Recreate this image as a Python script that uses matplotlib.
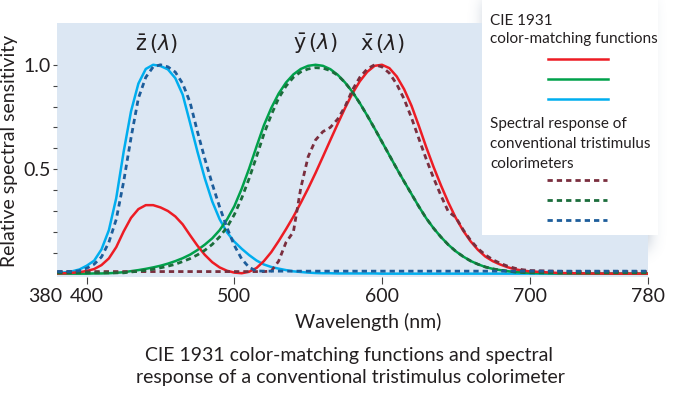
import numpy as np
import matplotlib
matplotlib.use("Agg")
import matplotlib.pyplot as plt
from matplotlib.patches import Rectangle

plt.rcParams['font.family'] = ['Lato', 'DejaVu Sans']
plt.rcParams['mathtext.fontset'] = 'dejavusans'

# ----------------------------
# Data (normalised to peak = 1)
# ----------------------------
wavelength = list(range(380, 705, 5)) + [720, 740, 760, 780]

# CIE 1931 colour-matching functions (solid)
x_bar = [.001, .002, .004, .007, .013, .022, .041, .073, .127, .202, .267, .309, .328,
         .328, .317, .300, .274, .236, .184, .134, .090, .055, .030, .014, .005, .002,
         .009, .027, .060, .103, .156, .213, .273, .339, .408, .482, .560, .639, .717,
         .793, .863, .921, .966, .995, 1.0, .984, .944, .883, .804, .707, .605, .510,
         .422, .340, .267, .206, .155, .114, .082, .060, .044, .031, .021, .015, .011,
         .003, .001, 0, 0]
y_bar = [0, 0, 0, 0, 0, .001, .001, .002, .004, .007, .012, .017, .023, .030, .038,
         .048, .060, .074, .091, .113, .139, .169, .208, .259, .323, .407, .503, .608,
         .710, .793, .862, .915, .954, .980, .995, 1.0, .995, .979, .952, .915, .870,
         .816, .757, .695, .631, .567, .503, .441, .381, .321, .265, .217, .175, .138,
         .107, .082, .061, .045, .032, .023, .017, .012, .008, .006, .004, .001, 0, 0, 0]
z_bar = [.004, .006, .011, .020, .038, .062, .116, .208, .362, .583, .777, .910, .980,
         1.0, .994, .978, .936, .857, .722, .584, .456, .346, .261, .198, .153, .119,
         .089, .063, .044, .032, .024, .017, .011, .008, .005, .003, .002, .002, .001,
         .001, .001, .001, .001, .001, 0, 0, 0, 0, 0, 0, 0, 0, 0, 0, 0, 0, 0, 0, 0, 0,
         0, 0, 0, 0, 0, 0, 0, 0, 0]

# Spectral response of a conventional tristimulus colorimeter (dashed)
x_meter = [.01] * 29 + [.012, .06, .15, .20, .41, .56, .64, .68, .70, .74, .80, .88,
           .94, .98, 1.0, .99, .96, .907, .836, .746, .646, .548, .457, .373, .296,
           .27, .21, .16, .12, .09, .067, .05, .036, .026, .019, .015, .011, .01, .01, .01]
y_meter = [.004] * 10 + [.008, .012, .016, .022, .028, .036, .045, .058, .072, .090,
           .112, .140, .176, .222, .283, .362, .455, .560, .668, .760, .840, .898,
           .940, .966, .980, .986, .984, .972, .950, .915, .870, .816, .757, .695,
           .631, .567, .503, .441, .381, .321, .265, .217, .175, .138, .107, .082,
           .061, .045, .032, .023, .017, .012, .008, .006, .004, .004, .004, .004, .004]
z_meter = [.01, .01, .01, .014, .026, .045, .08, .15, .26, .44, .65, .84, .94, .99,
           1.0, .99, .965, .91, .82, .68, .55, .43, .32, .22, .135, .07, .03, .013] + [.012] * 41

x_ticks = [400, 500, 600, 700, 780]
y_ticks = [0.5, 1.0]
y_minor = [0.1, 0.2, 0.3, 0.4, 0.6, 0.7, 0.8, 0.9]

RED, GREEN, CYAN = '#ed1c24', '#00a14b', '#00aeef'
MAROON, DKGREEN, DKBLUE = '#7a2e3e', '#1b6d3b', '#1d5d9b'
TEXT = '#231f20'

W, H = 700, 398
fig = plt.figure(figsize=(W / 100, H / 100), dpi=100)

# ----------------------------
# Background: plot area + legend drop shadow
# ----------------------------
back = fig.add_axes([0, 0, 1, 1], zorder=0)
back.set_xlim(0, W)
back.set_ylim(H, 0)
back.axis('off')
back.add_patch(Rectangle((57.2, 23), 590.5, 254, color='#dce7f3', lw=0))

mask = np.zeros((H, W))
mask[0:248, 486:648] = 1.0
k = np.exp(-0.5 * (np.arange(-24, 25) / 8.0) ** 2)
k /= k.sum()
mask = np.apply_along_axis(lambda r: np.convolve(r, k, mode='same'), 1, mask)
mask = np.apply_along_axis(lambda c: np.convolve(c, k, mode='same'), 0, mask)
shadow = np.zeros((H, W, 4))
shadow[..., 0], shadow[..., 1], shadow[..., 2] = 0.33, 0.43, 0.56
shadow[..., 3] = 0.45 * mask
back.imshow(shadow, extent=(0, W, H, 0), aspect='auto', interpolation='bilinear')

# ----------------------------
# Curves
# ----------------------------
ax = fig.add_axes([57.2 / W, (H - 277) / H, 590.5 / W, 254 / H], zorder=1)
ax.set_facecolor('none')
ax.set_xlim(380, 780)
ax.set_ylim(-0.016, 1.2)

ax.plot(wavelength, z_bar, color=CYAN, lw=1.8)
ax.plot(wavelength, y_bar, color=GREEN, lw=1.8)
ax.plot(wavelength, x_bar, color=RED, lw=1.8)
dash = dict(lw=2.0, ls=(0, (1.9, 1.45)), dash_capstyle='butt')
ax.plot(wavelength, x_meter, color=MAROON, **dash)
ax.plot(wavelength, y_meter, color=DKGREEN, **dash)
ax.plot(wavelength, z_meter, color=DKBLUE, **dash)

for s in ax.spines.values():
    s.set_visible(False)
ax.set_xticks(x_ticks)
ax.set_yticks(y_ticks)
ax.set_yticklabels(['0.5', '1.0'])
ax.set_yticks(y_minor, minor=True)
ax.tick_params(axis='x', length=5, width=0.8, color='#444', pad=3,
               labelsize=14, labelcolor=TEXT)
ax.tick_params(axis='y', which='both', length=3, width=0.8, color='#444', pad=2,
               labelsize=14, labelcolor=TEXT)
ax.annotate('380', xy=(380, 0), xycoords=('data', 'axes fraction'),
            xytext=(-12, -11), textcoords='offset pixels', ha='center', va='top',
            fontsize=14, color=TEXT)

lab = dict(fontsize=15, color=TEXT, ha='center', va='center')
ax.text(447, 1.1, r'$\bar{\mathrm{z}}\,(\lambda)$', **lab)
ax.text(555, 1.1, r'$\bar{\mathrm{y}}\,(\lambda)$', **lab)
ax.text(600, 1.1, r'$\bar{\mathrm{x}}\,(\lambda)$', **lab)

# ----------------------------
# Legend box, axis titles, caption (pixel coordinates)
# ----------------------------
top = fig.add_axes([0, 0, 1, 1], zorder=2)
top.set_facecolor('none')
top.set_xlim(0, W)
top.set_ylim(H, 0)
top.axis('off')
top.add_patch(Rectangle((482, -2), 176, 237, color='white', lw=0))

leg = dict(fontsize=11, color=TEXT, ha='left', va='baseline')
top.text(490, 25, 'CIE 1931', **leg)
top.text(490, 43, 'color-matching functions', **leg)
top.text(490, 128, 'Spectral response of', **leg)
top.text(490, 148, 'conventional tristimulus', **leg)
top.text(490, 168, 'colorimeters', **leg)
for yy, c in zip([59, 79, 99], [RED, GREEN, CYAN]):
    top.plot([548, 608], [yy, yy], color=c, lw=1.8)
for yy, c in zip([180, 200, 220], [MAROON, DKGREEN, DKBLUE]):
    top.plot([547, 607], [yy, yy], color=c, **dash)

top.text(368, 322, 'Wavelength (nm)', fontsize=14, color=TEXT, ha='center', va='center')
top.text(10, 151, 'Relative spectral sensitivity', fontsize=14, color=TEXT,
         ha='center', va='center', rotation=90)
top.text(349, 355, 'CIE 1931 color-matching functions and spectral',
         fontsize=14, color=TEXT, ha='center', va='center')
top.text(350, 378, 'response of a conventional tristimulus colorimeter',
         fontsize=14, color=TEXT, ha='center', va='center')

fig.savefig('out.png', dpi=100)
